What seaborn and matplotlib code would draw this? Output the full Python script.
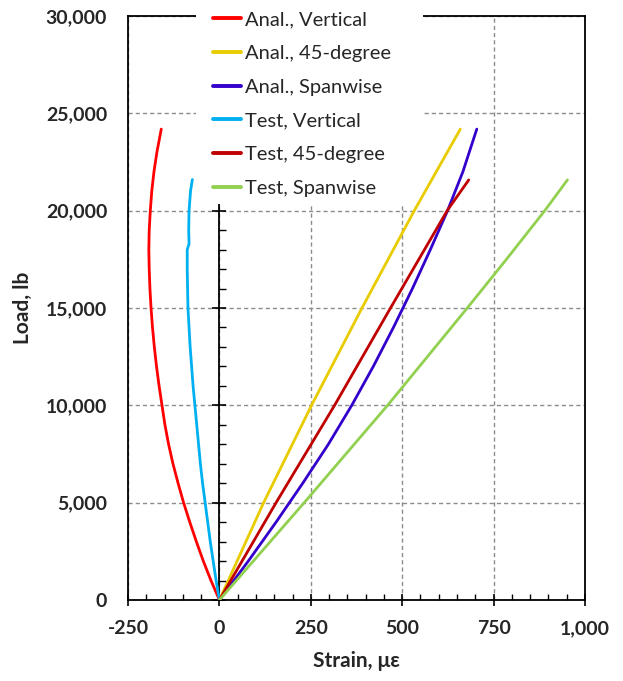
import numpy as np
import pandas as pd
import matplotlib
matplotlib.use("Agg")
import matplotlib.pyplot as plt
import matplotlib.ticker as mticker
from matplotlib.patches import Rectangle
import seaborn as sns

# ---------------- data ----------------
series_names = ["Anal., Vertical", "Anal., 45-degree", "Anal., Spanwise",
                "Test, Vertical", "Test, 45-degree", "Test, Spanwise"]
series_colors = ["#FF0000", "#E8CC00", "#3300CC", "#00B0F0", "#C00000", "#92D050"]

anal_vert_load = [0, 1000, 2000, 3000, 4000, 5000, 6000, 7000, 8000, 9000, 10000,
                  11000, 12000, 13000, 14000, 15000, 16000, 17000, 18000, 19000,
                  20000, 21000, 22000, 23000, 24190]
anal_vert_strain = [0, -23, -44, -63, -81, -98, -113, -127, -139, -149, -157,
                    -165, -172, -178, -183, -187, -190, -192, -193, -192,
                    -189, -185, -179, -171, -159]

anal_45_load = [0, 5000, 10000, 15000, 20000, 24190]
anal_45_strain = [0, 121, 252, 390, 533, 659]

anal_span_load = [0, 2000, 4000, 6000, 8000, 10000, 12000, 14000, 16000, 18000,
                  20000, 22000, 24190]
anal_span_strain = [0, 79, 155, 228, 298, 362, 421, 476, 528, 577, 624, 666, 704]

test_vert_load = [0, 1000, 2000, 3000, 4000, 5000, 6000, 7000, 8000, 9000, 10000,
                  11000, 12000, 13000, 14000, 15000, 16000, 17000, 18000, 18300,
                  19000, 20000, 21000, 21600]
test_vert_strain = [0, -9, -17, -25, -32, -39, -46, -52, -57, -62, -67,
                    -72, -76, -80, -83, -86, -87, -88, -88, -83,
                    -84, -83, -79, -74]

test_45_load = [0, 5000, 10000, 15000, 20000, 21580]
test_45_strain = [0, 155, 315, 468, 623, 682]

test_span_load = [0, 5000, 10000, 15000, 17500, 20000, 21580]
test_span_strain = [0, 232, 460, 678, 785, 890, 952]

x_ticks = [-250, 0, 250, 500, 750, 1000]
y_ticks = [0, 5000, 10000, 15000, 20000, 25000, 30000]
x_label = "Strain, \u03bc\u03b5"
y_label = "Load, lb"

loads = [anal_vert_load, anal_45_load, anal_span_load,
         test_vert_load, test_45_load, test_span_load]
strains = [anal_vert_strain, anal_45_strain, anal_span_strain,
           test_vert_strain, test_45_strain, test_span_strain]

frames = []
for name, ld, st in zip(series_names, loads, strains):
    frames.append(pd.DataFrame({"series": name, "load": ld, "strain": st}))
df = pd.concat(frames, ignore_index=True)

# ---------------- styling ----------------
sns.set_theme(style="white")
plt.rcParams["font.family"] = ["Lato", "DejaVu Sans"]

W, H = 623, 681
fig = plt.figure(figsize=(W / 100, H / 100), dpi=100)
ax_l, ax_r, ax_t, ax_b = 128, 585, 16, 600
ax = fig.add_axes([ax_l / W, 1 - ax_b / H, (ax_r - ax_l) / W, (ax_b - ax_t) / H])

palette = dict(zip(series_names, series_colors))
sns.lineplot(data=df, x="strain", y="load", hue="series", hue_order=series_names,
             palette=palette, sort=False, estimator=None, ax=ax, legend=True,
             linewidth=2.0)
for ln in ax.lines:
    if ln.get_label().startswith("Test"):
        ln.set_linewidth(2.4)
    ln.set_zorder(3)
    ln.set_solid_joinstyle("round")

handles, labels = ax.get_legend_handles_labels()
ax.get_legend().remove()

ax.set_xlim(x_ticks[0], x_ticks[-1])
ax.set_ylim(y_ticks[0], y_ticks[-1])
ax.set_xticks(x_ticks)
ax.set_yticks(y_ticks)
ax.xaxis.set_minor_locator(mticker.MultipleLocator(50))
fmt = mticker.FuncFormatter(lambda v, p: "{:,.0f}".format(v))
ax.xaxis.set_major_formatter(fmt)
ax.yaxis.set_major_formatter(fmt)

ax.grid(True, which="major", color="#8C8C8C", linestyle=(0, (3, 2.2)), linewidth=1.0)
ax.set_axisbelow(True)
for s in ax.spines.values():
    s.set_visible(True)
    s.set_color("black")
    s.set_linewidth(1.3)

ax.tick_params(axis="x", which="major", direction="inout", length=9, width=1.2,
               color="black", pad=10, labelsize=14, bottom=True)
ax.tick_params(axis="x", which="minor", direction="in", length=4.5, width=1.0,
               color="black", bottom=True)
ax.tick_params(axis="y", which="both", length=0, pad=15, labelsize=14)
for t in ax.get_xticklabels() + ax.get_yticklabels():
    t.set_fontweight("bold")

ax.set_xlabel(x_label, fontsize=15, fontweight="bold", labelpad=10)
ax.set_ylabel(y_label, fontsize=15, fontweight="bold", labelpad=9)

# vertical value axis crossing at strain = 0
x0, x1 = ax.get_xlim()
loc0 = (0 - x0) / (x1 - x0)
sec = ax.secondary_yaxis(loc0)
sec.set_zorder(2.6)
sec.set_yticks(y_ticks)
sec.yaxis.set_minor_locator(mticker.MultipleLocator(1000))
sec.tick_params(axis="y", which="major", direction="inout", length=9.5, width=1.2,
                color="black", labelleft=False, labelright=False)
sec.tick_params(axis="y", which="minor", direction="in", length=4.8, width=1.0,
                color="black")
sec.spines["left"].set_linewidth(1.3)
sec.spines["left"].set_color("black")

# white legend area (covers top spine/gridlines like the reference)
leg_l, leg_r, leg_b = 196, 423, 204
ax.add_patch(Rectangle((leg_l / W, 1 - leg_b / H), (leg_r - leg_l) / W, leg_b / H,
                       transform=fig.transFigure, facecolor="white",
                       edgecolor="none", zorder=2.8, clip_on=False))

leg = fig.legend(handles, labels, loc="upper left",
                 bbox_to_anchor=(213 / W, 1 - 11 / H), frameon=False,
                 fontsize=14.5, handlelength=1.4, handletextpad=0.2,
                 labelspacing=0.83, borderpad=0, borderaxespad=0)
for lh in leg.get_lines():
    lh.set_linewidth(2.8)

fig.savefig("out.png", dpi=100)
